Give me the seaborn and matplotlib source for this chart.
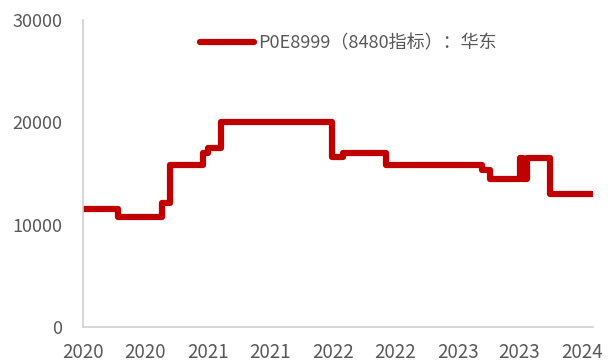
import pandas as pd
import numpy as np
import matplotlib.pyplot as plt
import matplotlib.dates as mdates
import seaborn as sn

# step changes of the price series (date the new level starts, level)
dates = ['2020-01-01', '2020-04-13', '2020-08-19', '2020-09-10', '2020-12-16',
         '2020-12-30', '2021-02-08', '2021-12-30', '2022-01-31', '2022-06-04',
         '2023-03-14', '2023-04-05', '2023-07-04', '2023-07-12', '2023-07-24',
         '2023-09-30', '2024-01-30']
values = [11500, 10800, 12100, 15800, 17000,
          17500, 20000, 16600, 17000, 15800,
          15300, 14500, 16500, 14500, 16500,
          13000, 13000]
series_name = 'P0E8999（8480指标）：华东'
tick_dates = ['2020-01-01', '2020-07-01', '2021-01-01', '2021-07-01', '2022-01-01',
              '2022-07-01', '2023-01-01', '2023-07-01', '2024-01-01']
y_ticks = [0, 10000, 20000, 30000]

df = pd.DataFrame({'date': pd.to_datetime(dates), 'price': values})

sn.set_style('white')
plt.rcParams['font.family'] = ['Noto Sans CJK SC', 'DejaVu Sans']

fig = plt.figure(figsize=(6.08, 3.63), dpi=100)
ax = fig.add_axes([0.137, 0.099, 0.838, 0.846])

sn.lineplot(x='date', y='price', data=df, ax=ax, color='#C00000', linewidth=4.5,
            drawstyle='steps-post', label=series_name, solid_capstyle='round')

ax.set_xlim(pd.Timestamp('2020-01-01'), pd.Timestamp('2024-02-01'))
ax.set_ylim(0, 30000)
ax.set_yticks(y_ticks)
ax.set_xticks(pd.to_datetime(tick_dates))
ax.xaxis.set_major_formatter(mdates.DateFormatter('%Y'))
ax.set_xlabel('')
ax.set_ylabel('')

for s in ['top', 'right']:
    ax.spines[s].set_visible(False)
for s in ['left', 'bottom']:
    ax.spines[s].set_color('#d0d0d0')
    ax.spines[s].set_linewidth(1.2)
ax.tick_params(axis='x', length=4, width=1.2, color='#d0d0d0', labelsize=13.5,
               labelcolor='#595959', pad=7)
ax.tick_params(axis='y', length=4, width=1.2, color='#d0d0d0', labelsize=13,
               labelcolor='#595959', pad=11)

ax.legend(loc='upper center', bbox_to_anchor=(0.52, 1.005), frameon=False,
          fontsize=13, labelcolor='#595959', handlelength=3.0, handletextpad=0.2)

plt.savefig('out.png', dpi=100)
